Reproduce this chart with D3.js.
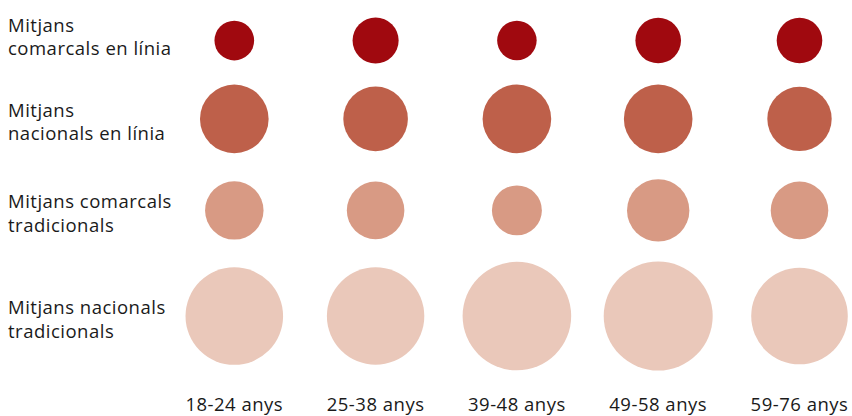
<!DOCTYPE html>
<html lang="ca">
<head>
  <meta charset="UTF-8" />
  <title>Mitjans per edat</title>
  <style>
    html, body { margin:0; padding:0; background:#fff; }
    svg { display:block; font-family:"Open Sans", sans-serif; }
    .lbl { font-size:18.5px; letter-spacing:0.5px; fill:#1a1a1a; }
  </style>
</head>
<body>
  <svg id="chart" width="852" height="416"></svg>
  <script src="https://d3js.org/d3.v7.min.js"></script>
  <script>
  // categories
  const ages = ["18-24 anys", "25-38 anys", "39-48 anys", "49-58 anys", "59-76 anys"];
  const media = [
    ["Mitjans", "comarcals en línia"],
    ["Mitjans", "nacionals en línia"],
    ["Mitjans comarcals", "tradicionals"],
    ["Mitjans nacionals", "tradicionals"]
  ];
  // values (%), one array per row
  const comarcalsLinia     = [10.6, 14.3, 10.5, 14.0, 14.0];
  const nacionalsLinia     = [31.7, 28.1, 31.7, 31.7, 27.9];
  const comarcalsTradic    = [23.0, 22.3, 16.8, 26.2, 22.3];
  const nacionalsTradic    = [64.1, 63.9, 79.4, 80.0, 62.8];
  const values = [comarcalsLinia, nacionalsLinia, comarcalsTradic, nacionalsTradic];

  const colors = ["#a0090f", "#be604a", "#d89a84", "#eac8ba"];

  const svg = d3.select('#chart');

  const r = d3.scaleSqrt().domain([0, 80]).range([0, 54.5]);
  const x = d3.scalePoint().domain(ages).range([234.3, 799.5]);

  // row centres: stack rows by their largest bubble plus a gap
  const topPad = 17.5, gaps = [21, 26, 20];
  const rowY = [];
  let acc = topPad;
  values.forEach((row, i) => {
    const mr = r(d3.max(row));
    acc += mr;
    rowY.push(acc);
    acc += mr + (gaps[i] || 0);
  });

  values.forEach((row, i) => {
    svg.append('g').selectAll('circle')
      .data(row)
      .join('circle')
      .attr('cx', (d, j) => x(ages[j]))
      .attr('cy', rowY[i])
      .attr('r', d => r(d))
      .attr('fill', colors[i]);

    const t = svg.append('text')
      .attr('class', 'lbl')
      .attr('x', 8)
      .attr('y', rowY[i] - (i === 0 ? 9 : 2));
    media[i].forEach((line, k) => {
      t.append('tspan').attr('x', 8).attr('dy', k ? 23.5 : 0).text(line);
    });
  });

  svg.append('g').selectAll('text')
    .data(ages)
    .join('text')
    .attr('class', 'lbl')
    .attr('x', d => x(d))
    .attr('y', 411)
    .attr('text-anchor', 'middle')
    .text(d => d);
  </script>
</body>
</html>
